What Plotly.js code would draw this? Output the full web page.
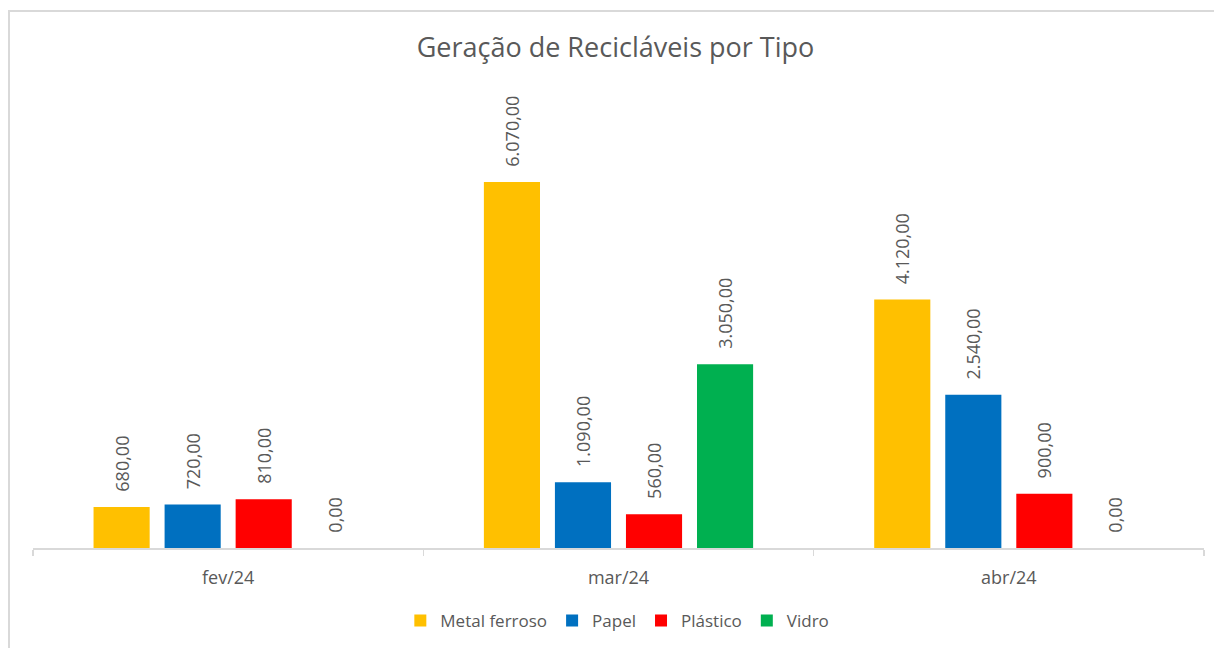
<!DOCTYPE html>
<html>
<head>
<meta charset="utf-8">
<script src="https://cdn.plot.ly/plotly-3.0.1.min.js"></script>
<style>
  html, body { margin: 0; padding: 0; background: #ffffff; width: 1214px; height: 648px; overflow: hidden; }
  #frame { position: absolute; left: 8px; top: 10px; width: 1400px; height: 800px;
           border-left: 2px solid #d9d9d9; border-top: 2px solid #d9d9d9; box-sizing: border-box; }
  #chart { position: absolute; left: 0; top: 0; width: 1214px; height: 648px; }
</style>
</head>
<body>
<div id="frame"></div>
<div id="chart"></div>
<script>
const categories = ['fev/24', 'mar/24', 'abr/24'];
const metalFerroso = [680, 6070, 4120];
const papel = [720, 1090, 2540];
const plastico = [810, 560, 900];
const vidro = [0, 3050, 0];

const seriesNames = ['Metal ferroso', 'Papel', 'Plástico', 'Vidro'];
const seriesValues = [metalFerroso, papel, plastico, vidro];
const seriesColors = ['#FFC000', '#0070C0', '#FF0000', '#00B050'];

const labelFont = { family: 'Open Sans, sans-serif', size: 18, color: '#595959' };

const traces = seriesNames.map((name, i) => ({
  type: 'bar',
  name: name,
  x: categories,
  y: seriesValues[i],
  marker: { color: seriesColors[i] },
  texttemplate: '\u00a0\u00a0\u2009%{y:,.2f}',
  textposition: 'outside',
  textangle: -90,
  constraintext: 'none',
  cliponaxis: false,
  textfont: labelFont,
  hoverinfo: 'skip'
}));

const layout = {
  width: 1214,
  height: 648,
  paper_bgcolor: 'rgba(0,0,0,0)',
  plot_bgcolor: 'rgba(0,0,0,0)',
  margin: { l: 33, r: 10, t: 126, b: 99 },
  separators: ',.',
  barmode: 'group',
  bargap: 0.272,
  bargroupgap: 0.21,
  title: {
    text: 'Geração de Recicláveis por Tipo',
    font: { family: 'Open Sans, sans-serif', size: 27, color: '#595959' },
    x: 0.507, xanchor: 'center',
    y: 0.926, yanchor: 'middle'
  },
  xaxis: {
    type: 'category',
    showline: true,
    linecolor: '#d9d9d9',
    linewidth: 1.5,
    ticks: 'outside',
    tickson: 'boundaries',
    ticklen: 6,
    tickcolor: '#d9d9d9',
    tickwidth: 1.5,
    ticklabelstandoff: 13,
    tickfont: { family: 'Open Sans, sans-serif', size: 18, color: '#595959' },
    showgrid: false,
    zeroline: false
  },
  yaxis: {
    range: [0, 7000],
    visible: false,
    showgrid: false,
    zeroline: false
  },
  showlegend: true,
  legend: {
    orientation: 'h',
    x: 0.499, xanchor: 'center',
    y: -0.17, yanchor: 'middle',
    font: { family: 'Open Sans, sans-serif', size: 17, color: '#595959' },
    itemwidth: 30,
    traceorder: 'normal'
  }
};

Plotly.newPlot('chart', traces, layout, { staticPlot: true, displayModeBar: false });
</script>
</body>
</html>
